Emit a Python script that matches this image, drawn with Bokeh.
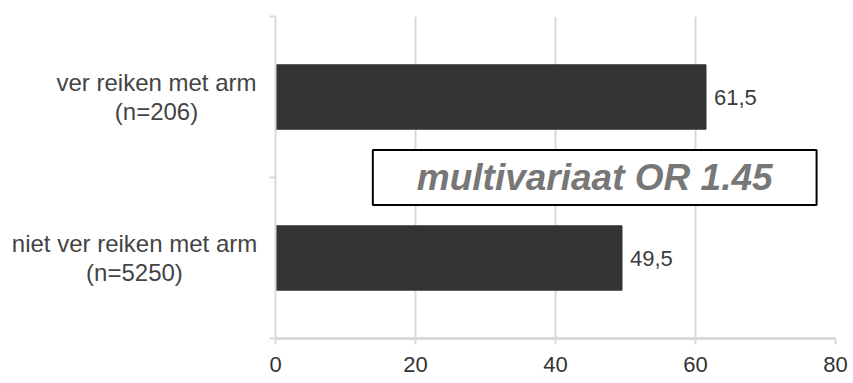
from bokeh.plotting import figure
from bokeh.layouts import row
from bokeh.models import Range1d, FixedTicker, Label, ColumnDataSource, LabelSet
from bokeh.core.properties import value
from bokeh.embed import file_html
from bokeh.resources import INLINE

# ---- data ----
categories = ["niet ver reiken met arm\n(n=5250)", "ver reiken met arm\n(n=206)"]
values = [49.5, 61.5]
value_labels = ["49,5", "61,5"]
x_ticks = [0, 20, 40, 60, 80]
annotation_text = "multivariaat OR 1.45"

positions = [0.5, 1.5]
boundaries = [0, 1, 2]

FONT = "Liberation Sans"
GRID = "#d9d9d9"

# layout constants (pixels)
W, H = 853, 383
FRAME_LEFT, FRAME_W = 275, 560
FRAME_TOP, FRAME_H = 16, 322
AXIS_W = 12
LABEL_W = FRAME_LEFT - AXIS_W
label_centers_px = [134, 156]   # horizontal centre of each category label block

y_range = Range1d(0, 2)

# ---- category labels panel ----
pl = figure(width=LABEL_W, height=H, x_range=Range1d(0, LABEL_W), y_range=y_range,
            output_backend="svg", toolbar_location=None,
            x_axis_location=None, y_axis_location=None,
            min_border_left=0, min_border_right=0,
            min_border_top=FRAME_TOP, min_border_bottom=H - FRAME_TOP - FRAME_H)
pl.outline_line_color = None
pl.grid.visible = False
lsrc = ColumnDataSource(dict(x=label_centers_px, y=positions, t=categories))
pl.text(x="x", y="y", text="t", source=lsrc, text_align="center",
        text_baseline="middle", text_font=value(FONT), text_font_size="24px",
        text_line_height=1.05, text_color="#444444")

# ---- main chart ----
p = figure(width=W - LABEL_W, height=H, x_range=Range1d(0, 80), y_range=y_range,
           output_backend="svg", toolbar_location=None,
           min_border_left=AXIS_W, min_border_right=W - FRAME_LEFT - FRAME_W,
           min_border_top=FRAME_TOP, min_border_bottom=H - FRAME_TOP - FRAME_H)
p.outline_line_color = None
p.background_fill_color = "white"
p.border_fill_color = "white"

src = ColumnDataSource(dict(y=positions, right=values, lab=value_labels))
p.hbar(y="y", right="right", left=0, height=0.4, source=src,
       fill_color="#333333", line_color="#333333")

p.add_layout(LabelSet(x="right", y="y", text="lab", source=src, x_offset=8,
                      text_baseline="middle", text_font=value(FONT), text_font_size="22px",
                      text_color="#3c3c3c"))

# x axis
p.xaxis.ticker = FixedTicker(ticks=x_ticks)
p.xaxis.axis_line_color = GRID
p.xaxis.axis_line_width = 3
p.xaxis.major_tick_line_color = GRID
p.xaxis.major_tick_line_width = 2
p.xaxis.major_tick_out = 6
p.xaxis.major_tick_in = 0
p.xaxis.minor_tick_line_color = None
p.xaxis.major_label_text_font = FONT
p.xaxis.major_label_text_font_size = "22px"
p.xaxis.major_label_text_color = "#333333"
p.xaxis.major_label_standoff = 12

# y axis (labels drawn in the side panel)
p.yaxis.ticker = FixedTicker(ticks=positions, minor_ticks=boundaries)
p.yaxis.major_label_text_font_size = "0px"
p.yaxis.major_label_standoff = 0
p.yaxis.major_label_overrides = {pos: "" for pos in positions}
p.yaxis.axis_line_color = GRID
p.yaxis.axis_line_width = 2
p.yaxis.major_tick_line_color = None
p.yaxis.major_tick_out = 0
p.yaxis.minor_tick_line_color = GRID
p.yaxis.minor_tick_line_width = 2
p.yaxis.minor_tick_out = 6
p.yaxis.minor_tick_in = 0

# grid
p.ygrid.grid_line_color = None
p.xgrid.ticker = FixedTicker(ticks=x_ticks[1:])
p.xgrid.grid_line_color = GRID
p.xgrid.grid_line_width = 2

p.add_layout(Label(x=45.6, y=1.0, text=annotation_text, text_align="center",
                   text_baseline="middle", text_font=FONT, text_font_size="37px",
                   text_font_style="bold italic", text_color="#777777",
                   background_fill_color="white", border_line_color="black",
                   border_line_width=2,
                   padding=dict(left=44, right=44, top=7, bottom=7)))

layout = row(pl, p, spacing=0)
open("out.html", "w").write(file_html(layout, INLINE))
